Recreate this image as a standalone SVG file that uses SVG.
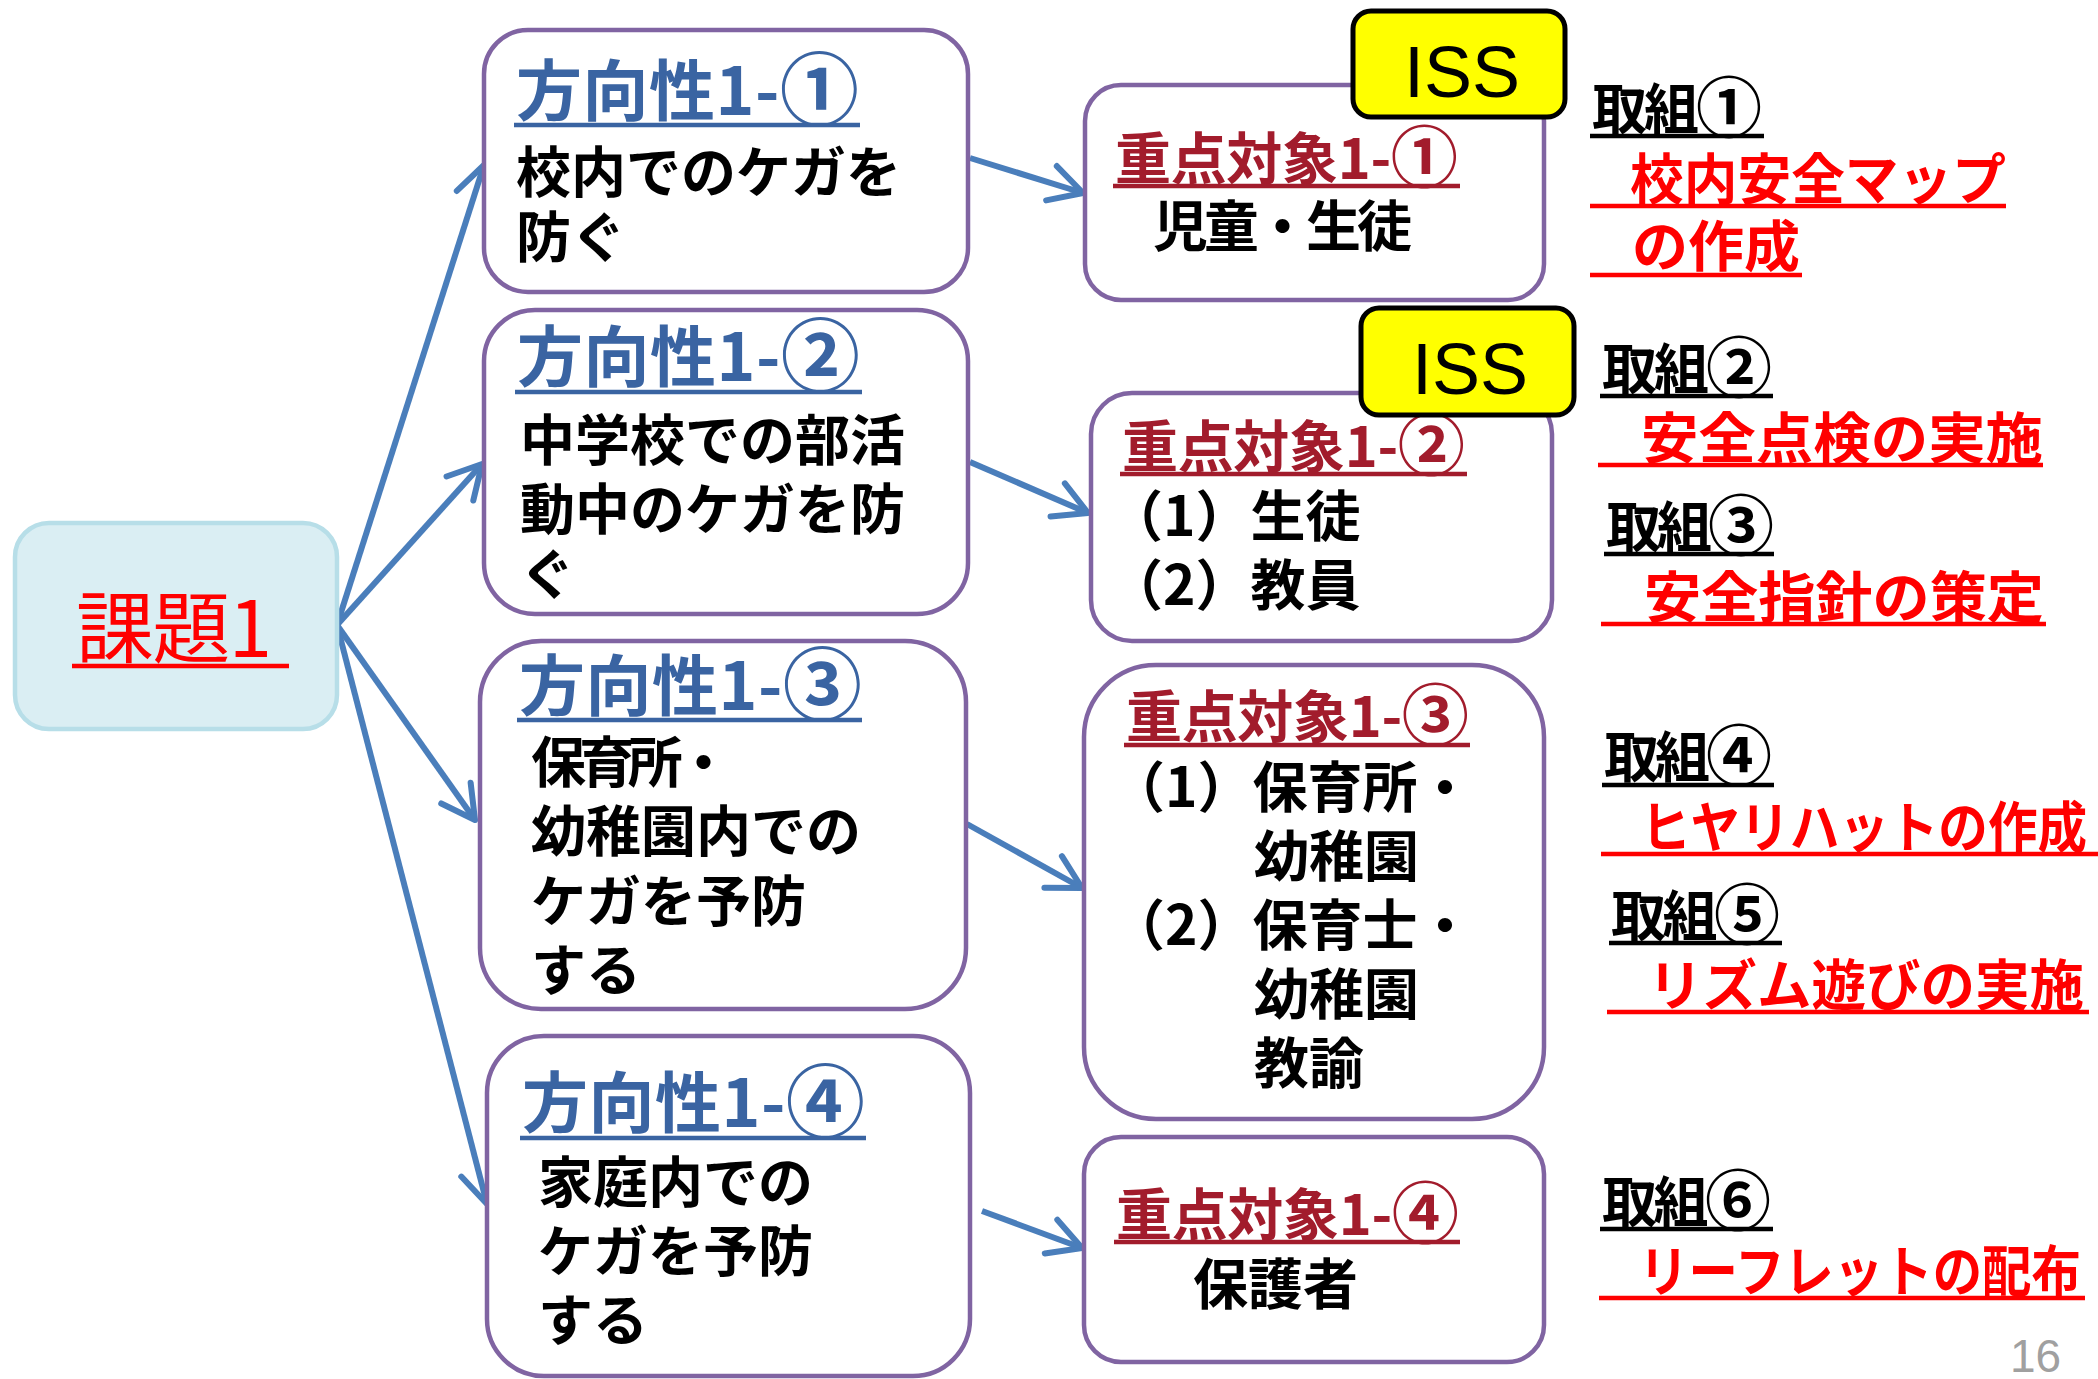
<svg xmlns="http://www.w3.org/2000/svg" width="2098" height="1379" viewBox="0 0 2098 1379">
<style>
.jp{font-family:"Noto Sans CJK JP","Noto Sans CJK SC",sans-serif;font-weight:700}
.body{font-size:55px;fill:#000}
.dir{font-size:66px;fill:#3A64A2}
.tgt{font-size:56px;fill:#A21C2C}
.act{font-size:55px;fill:#000}
.red{font-size:55px;fill:#FF0000}
.c1{font-size:1.2em}
.box{fill:#FFFFFF;stroke:#8064A2;stroke-width:4.5}
.ul-b{stroke:#3A64A2;stroke-width:4.5}
.ul-r{stroke:#A21C2C;stroke-width:4.5}
.ul-k{stroke:#000;stroke-width:4.5}
.ul-red{stroke:#FF0000;stroke-width:4.5}
.conn{fill:none;stroke:#4A7EBB;stroke-width:6;marker-end:url(#arr)}
.iss{fill:#FFFF00;stroke:#000;stroke-width:5}
.isst{font-family:"Liberation Sans",Arial,sans-serif;font-size:72px;fill:#000;text-anchor:middle}
</style>
<defs>
<marker id="arr" markerUnits="userSpaceOnUse" markerWidth="60" markerHeight="60" viewBox="-45 -30 60 60" refX="0" refY="0" orient="auto" overflow="visible">
<path d="M-33,-18 L0,0 L-33,18" fill="none" stroke="#4A7EBB" stroke-width="6" stroke-linecap="round" stroke-linejoin="round"/>
</marker>
</defs>
<rect width="2098" height="1379" fill="#FFFFFF"/>

<g id="connectors">
<line class="conn" x1="337" y1="625" x2="484" y2="165"/>
<line class="conn" x1="337" y1="625" x2="482" y2="464"/>
<line class="conn" x1="337" y1="625" x2="475" y2="820"/>
<line class="conn" x1="337" y1="625" x2="487" y2="1204"/>
<line class="conn" x1="970" y1="158" x2="1083" y2="193"/>
<line class="conn" x1="970" y1="462" x2="1088" y2="513"/>
<line class="conn" x1="967" y1="824" x2="1082" y2="888"/>
<line class="conn" x1="982" y1="1211" x2="1082" y2="1248"/>
</g>

<g id="kadai1">
<rect x="15" y="523" width="322" height="206" rx="34" fill="#DAEEF3" stroke="#B7DEE8" stroke-width="4.5"/>
<text x="76" y="657" font-family="'Noto Sans CJK JP','Noto Sans CJK SC',sans-serif" font-size="78" fill="#FF0000" textLength="196" lengthAdjust="spacing">課題1</text>
<line x1="72" y1="666" x2="289" y2="666" class="ul-red" stroke-width="5"/>
</g>

<g id="dir1">
<rect class="box" x="484" y="30" width="484" height="262" rx="44"/>
<text class="jp dir" x="516" y="115" textLength="343" lengthAdjust="spacing">方向性1-<tspan class="c1" dy="4">①</tspan></text>
<line class="ul-b" x1="514" y1="125" x2="860" y2="125"/>
<text class="jp body" x="516" y="192">校内でのケガを</text>
<text class="jp body" x="516" y="257">防ぐ</text>
</g>

<g id="dir2">
<rect class="box" x="484" y="310" width="484" height="304" rx="51"/>
<text class="jp dir" x="517" y="381" textLength="343" lengthAdjust="spacing">方向性1-<tspan class="c1" dy="4">②</tspan></text>
<line class="ul-b" x1="515" y1="392" x2="862" y2="392"/>
<text class="jp body" x="520" y="460">中学校での部活</text>
<text class="jp body" x="520" y="529">動中のケガを防</text>
<text class="jp body" x="520" y="594">ぐ</text>
</g>

<g id="dir3">
<rect class="box" x="480" y="641" width="486" height="368" rx="61"/>
<text class="jp dir" x="519" y="710" textLength="343" lengthAdjust="spacing">方向性1-<tspan class="c1" dy="4">③</tspan></text>
<line class="ul-b" x1="517" y1="720" x2="862" y2="720"/>
<text class="jp body" x="531" y="782" textLength="200" lengthAdjust="spacing">保育所・</text>
<text class="jp body" x="531" y="851">幼稚園内での</text>
<text class="jp body" x="531" y="921">ケガを予防</text>
<text class="jp body" x="531" y="990">する</text>
</g>

<g id="dir4">
<rect class="box" x="487" y="1036" width="483" height="340" rx="57"/>
<text class="jp dir" x="522" y="1127" textLength="343" lengthAdjust="spacing">方向性1-<tspan class="c1" dy="4">④</tspan></text>
<line class="ul-b" x1="520" y1="1138" x2="866" y2="1138"/>
<text class="jp body" x="538" y="1202">家庭内での</text>
<text class="jp body" x="538" y="1271">ケガを予防</text>
<text class="jp body" x="538" y="1340">する</text>
</g>

<g id="target1">
<rect class="box" x="1085" y="85" width="459" height="215" rx="36"/>
<text class="jp tgt" x="1115" y="179" textLength="343" lengthAdjust="spacing">重点対象1-<tspan class="c1" dy="3">①</tspan></text>
<line class="ul-r" x1="1113" y1="186" x2="1460" y2="186"/>
<text class="jp body" x="1153" y="246" textLength="259" lengthAdjust="spacing">児童・生徒</text>
</g>

<g id="iss1">
<rect class="iss" x="1353" y="11" width="212" height="106" rx="18"/>
<text class="isst" x="1462" y="97">ISS</text>
</g>

<g id="target2">
<rect class="box" x="1091" y="393" width="461" height="248" rx="41"/>
<text class="jp tgt" x="1122" y="467" textLength="343" lengthAdjust="spacing">重点対象1-<tspan class="c1" dy="3">②</tspan></text>
<line class="ul-r" x1="1120" y1="474" x2="1467" y2="474"/>
<text class="jp body" x="1108" y="536">（1）生徒</text>
<text class="jp body" x="1108" y="605">（2）教員</text>
</g>

<g id="iss2">
<rect class="iss" x="1361" y="308" width="213" height="107" rx="18"/>
<text class="isst" x="1470" y="394">ISS</text>
</g>

<g id="target3">
<rect class="box" x="1084" y="665" width="460" height="454" rx="72"/>
<text class="jp tgt" x="1126" y="737" textLength="343" lengthAdjust="spacing">重点対象1-<tspan class="c1" dy="3">③</tspan></text>
<line class="ul-r" x1="1124" y1="745" x2="1470" y2="745"/>
<text class="jp body" x="1110" y="807">（1）保育所・</text>
<text class="jp body" x="1254" y="876">幼稚園</text>
<text class="jp body" x="1110" y="945">（2）保育士・</text>
<text class="jp body" x="1254" y="1014">幼稚園</text>
<text class="jp body" x="1254" y="1083">教諭</text>
</g>

<g id="target4">
<rect class="box" x="1084" y="1137" width="460" height="225" rx="37"/>
<text class="jp tgt" x="1116" y="1235" textLength="343" lengthAdjust="spacing">重点対象1-<tspan class="c1" dy="3">④</tspan></text>
<line class="ul-r" x1="1114" y1="1242" x2="1460" y2="1242"/>
<text class="jp body" x="1193" y="1304">保護者</text>
</g>

<g id="action1">
<text class="jp act" x="1592" y="129" textLength="170" lengthAdjust="spacing">取組<tspan class="c1" dy="3">①</tspan></text>
<line class="ul-k" x1="1590" y1="136" x2="1764" y2="136"/>
<text class="jp red" x="1630" y="199" textLength="376" lengthAdjust="spacingAndGlyphs">校内安全マップ</text>
<line class="ul-red" x1="1590" y1="206" x2="2006" y2="206"/>
<text class="jp red" x="1632" y="266" textLength="168" lengthAdjust="spacingAndGlyphs">の作成</text>
<line class="ul-red" x1="1590" y1="275" x2="1802" y2="275"/>
</g>

<g id="action2">
<text class="jp act" x="1602" y="389" textLength="170" lengthAdjust="spacing">取組<tspan class="c1" dy="3">②</tspan></text>
<line class="ul-k" x1="1600" y1="396" x2="1773" y2="396"/>
<text class="jp red" x="1641" y="458" textLength="402" lengthAdjust="spacingAndGlyphs">安全点検の実施</text>
<line class="ul-red" x1="1598" y1="465" x2="2043" y2="465"/>
</g>

<g id="action3">
<text class="jp act" x="1606" y="547" textLength="168" lengthAdjust="spacing">取組<tspan class="c1" dy="3">③</tspan></text>
<line class="ul-k" x1="1604" y1="554" x2="1774" y2="554"/>
<text class="jp red" x="1644" y="617" textLength="400" lengthAdjust="spacingAndGlyphs">安全指針の策定</text>
<line class="ul-red" x1="1601" y1="624" x2="2046" y2="624"/>
</g>

<g id="action4">
<text class="jp act" x="1604" y="777" textLength="168" lengthAdjust="spacing">取組<tspan class="c1" dy="3">④</tspan></text>
<line class="ul-k" x1="1602" y1="785" x2="1774" y2="785"/>
<text class="jp red" x="1641" y="847" textLength="446" lengthAdjust="spacingAndGlyphs">ヒヤリハットの作成</text>
<line class="ul-red" x1="1601" y1="854" x2="2098" y2="854"/>
</g>

<g id="action5">
<text class="jp act" x="1611" y="936" textLength="169" lengthAdjust="spacing">取組<tspan class="c1" dy="3">⑤</tspan></text>
<line class="ul-k" x1="1609" y1="943" x2="1782" y2="943"/>
<text class="jp red" x="1648" y="1005" textLength="436" lengthAdjust="spacingAndGlyphs">リズム遊びの実施</text>
<line class="ul-red" x1="1607" y1="1012" x2="2089" y2="1012"/>
</g>

<g id="action6">
<text class="jp act" x="1602" y="1222" textLength="169" lengthAdjust="spacing">取組<tspan class="c1" dy="3">⑥</tspan></text>
<line class="ul-k" x1="1600" y1="1229" x2="1773" y2="1229"/>
<text class="jp red" x="1639" y="1291" textLength="442" lengthAdjust="spacingAndGlyphs">リーフレットの配布</text>
<line class="ul-red" x1="1599" y1="1298" x2="2085" y2="1298"/>
</g>

<text x="2010" y="1372" font-family="'Liberation Sans',Arial,sans-serif" font-size="46" fill="#A0A0A0">16</text>
</svg>
